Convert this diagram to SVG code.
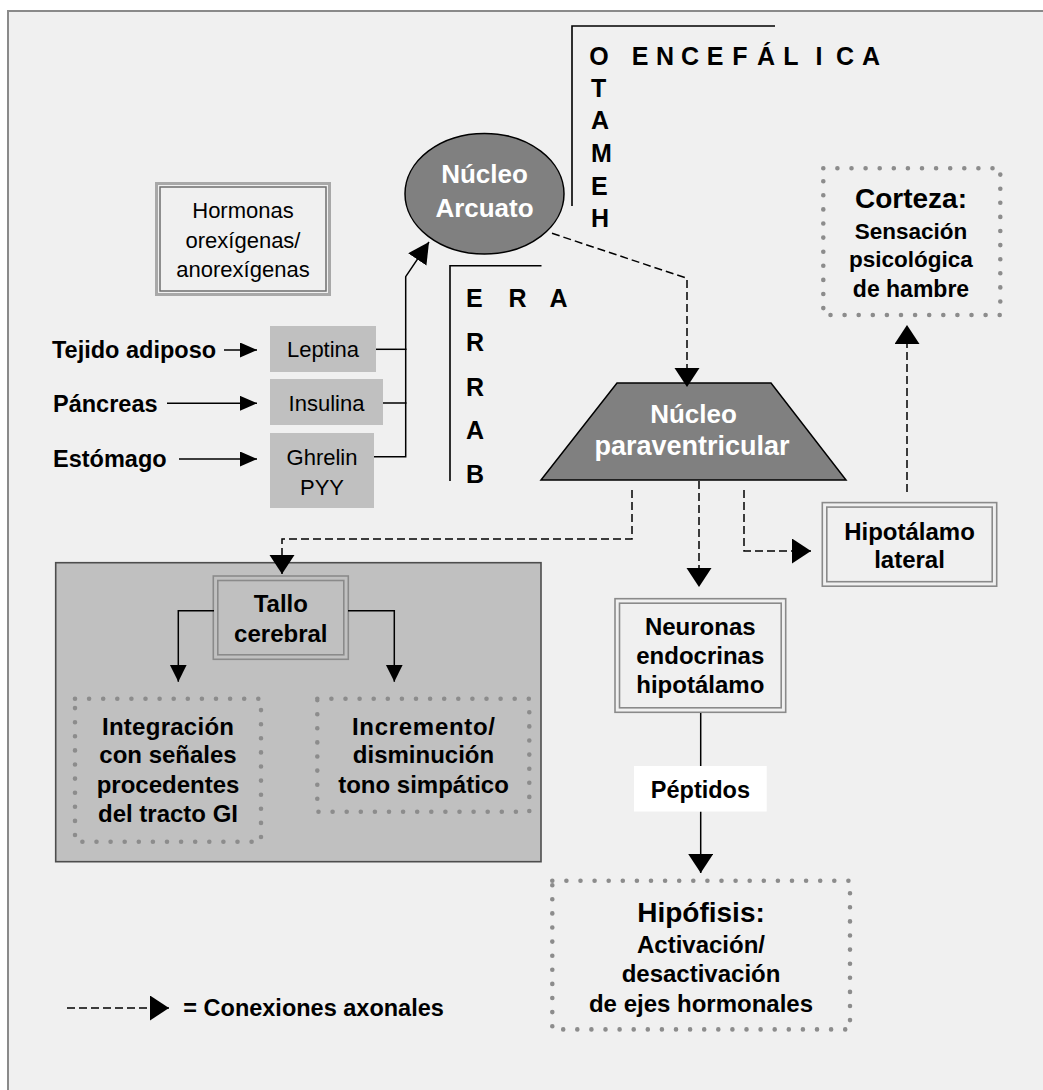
<svg xmlns="http://www.w3.org/2000/svg" width="1043" height="1090" viewBox="0 0 1043 1090">
<style>
text{font-family:"Liberation Sans",Arial,sans-serif;fill:#000}
.b{font-weight:bold}
.r{font-weight:normal}
.w{font-weight:bold;fill:#fff}
.c{text-anchor:middle}
.dbl{fill:none;stroke:#8a8a8a;stroke-width:1.6}
.dot{fill:none;stroke:#8c8c8c;stroke-width:4.6;stroke-dasharray:0 14.1;stroke-linecap:round}
.sol{fill:none;stroke:#000;stroke-width:1.5}
.dash{fill:none;stroke:#000;stroke-width:1.5;stroke-dasharray:8 4}
.hb{fill:#c0c0c0}
.brk{fill:none;stroke:#000;stroke-width:1.6}
</style>
<defs>
<marker id="ab" markerUnits="userSpaceOnUse" markerWidth="20" markerHeight="26" refX="19" refY="12.5" orient="auto"><path d="M0,0 L19,12.5 L0,25 Z" fill="#000"/></marker>
<marker id="am" markerUnits="userSpaceOnUse" markerWidth="18" markerHeight="18" refX="17" refY="8.5" orient="auto"><path d="M0,0 L17,8.5 L0,17 Z" fill="#000"/></marker>
<marker id="as" markerUnits="userSpaceOnUse" markerWidth="18" markerHeight="16" refX="17" refY="7.5" orient="auto"><path d="M0,0 L17,7.5 L0,15 Z" fill="#000"/></marker>
<marker id="ae" markerUnits="userSpaceOnUse" markerWidth="22" markerHeight="23" refX="21" refY="11" orient="auto"><path d="M0,0 L21,11 L0,22 Z" fill="#000"/></marker>
</defs>

<rect x="0" y="0" width="1043" height="1090" fill="#fff"/>
<rect id="frame" x="8" y="11" width="1045" height="1090" fill="#f0f0f0" stroke="#8a8a8a" stroke-width="2"/>

<g id="n-hormonas">
<rect x="156.5" y="183.5" width="173" height="111" fill="none" stroke="#a8a8a8" stroke-width="3"/>
<rect x="160" y="187" width="166" height="104" fill="none" stroke="#6e6e6e" stroke-width="1.5"/>
<text class="r c" x="243" y="218" font-size="22">Hormonas</text>
<text class="r c" x="243" y="248" font-size="22">orexígenas/</text>
<text class="r c" x="243" y="277" font-size="22">anorexígenas</text>
</g>

<g id="n-tejido"><text class="b" x="52" y="358" font-size="23.5">Tejido adiposo</text></g>
<g id="n-pancreas"><text class="b" x="53" y="412" font-size="23.5">Páncreas</text></g>
<g id="n-estomago"><text class="b" x="53" y="467" font-size="23.5">Estómago</text></g>

<g id="n-leptina">
<rect class="hb" x="270" y="326" width="106" height="46"/>
<text class="r c" x="323" y="357" font-size="22">Leptina</text>
</g>
<g id="n-insulina">
<rect class="hb" x="270" y="379" width="113" height="46"/>
<text class="r c" x="326.5" y="411" font-size="22">Insulina</text>
</g>
<g id="n-ghrelin">
<rect class="hb" x="270" y="433" width="104" height="75"/>
<text class="r c" x="322" y="465" font-size="22">Ghrelin</text>
<text class="r c" x="322" y="495" font-size="22">PYY</text>
</g>

<g id="n-arcuato">
<ellipse cx="484.5" cy="193.7" rx="79.5" ry="60.3" fill="#808080" stroke="#000" stroke-width="1.5"/>
<text class="w c" x="484.5" y="183" font-size="26">Núcleo</text>
<text class="w c" x="484.5" y="216.5" font-size="26">Arcuato</text>
</g>

<g id="n-hemato">
<path class="brk" d="M775,26 H572 V206"/>
<text class="b c" font-size="25" x="599 620 640 665 690 715 740 766 791 819 845 871" y="65">O ENCEFÁLICA</text>
<text class="b" font-size="25" x="591" y="96.7">T</text>
<text class="b" font-size="25" x="591" y="129.3">A</text>
<text class="b" font-size="25" x="591" y="161.7">M</text>
<text class="b" font-size="25" x="591" y="195">E</text>
<text class="b" font-size="25" x="591" y="227.3">H</text>
</g>

<g id="n-barrera">
<path class="brk" d="M541.5,265.7 H450 V481"/>
<text class="b" font-size="25" x="466 508.5 549.5" y="307">ERA</text>
<text class="b" font-size="25" x="466" y="351">R</text>
<text class="b" font-size="25" x="466" y="395.5">R</text>
<text class="b" font-size="25" x="466" y="439">A</text>
<text class="b" font-size="25" x="466" y="482.5">B</text>
</g>

<g id="n-pvn">
<polygon points="617,383 771,383 846,480 541,480" fill="#808080" stroke="#000" stroke-width="1.5"/>
<text class="w c" x="693.5" y="423" font-size="26">Núcleo</text>
<text class="w c" x="692" y="455" font-size="27">paraventricular</text>
</g>

<g id="n-corteza">
<rect class="dot" x="823.3" y="168.3" width="177" height="146.7"/>
<text class="b c" x="911" y="208.3" font-size="28">Corteza:</text>
<text class="b c" x="911" y="239.3" font-size="22.5">Sensación</text>
<text class="b c" x="911" y="267" font-size="22.5">psicológica</text>
<text class="b c" x="911" y="297" font-size="23">de hambre</text>
</g>

<g id="n-hl">
<rect class="dbl" x="822.3" y="502.6" width="174.4" height="83.6"/>
<rect class="dbl" x="826.8" y="507.1" width="165.4" height="74.6"/>
<text class="b c" x="909.5" y="539.5" font-size="24">Hipotálamo</text>
<text class="b c" x="909.5" y="568" font-size="24">lateral</text>
</g>

<g id="n-tronco">
<rect x="55.7" y="562.7" width="485.3" height="299" fill="#c0c0c0" stroke="#4d4d4d" stroke-width="1.6"/>
</g>

<g id="n-tallo">
<rect class="dbl" x="213.3" y="576" width="135" height="83.3"/>
<rect class="dbl" x="217.8" y="580.5" width="126" height="74.3"/>
<text class="b c" x="280.8" y="611.7" font-size="24">Tallo</text>
<text class="b c" x="280.8" y="642.3" font-size="24">cerebral</text>
</g>

<g id="n-integracion">
<rect class="dot" x="75" y="698.7" width="186" height="143"/>
<text class="b c" x="168" y="735" font-size="24" textLength="132" lengthAdjust="spacing">Integración</text>
<text class="b c" x="168" y="763.3" font-size="24">con señales</text>
<text class="b c" x="168" y="793" font-size="24">procedentes</text>
<text class="b c" x="168" y="822.3" font-size="24">del tracto GI</text>
</g>

<g id="n-incremento">
<rect class="dot" x="317.3" y="698.7" width="212" height="113"/>
<text class="b c" x="423.5" y="735" font-size="24" textLength="143" lengthAdjust="spacing">Incremento/</text>
<text class="b c" x="423.5" y="763.3" font-size="24">disminución</text>
<text class="b c" x="423.5" y="793" font-size="24">tono simpático</text>
</g>

<g id="n-neuronas">
<rect class="dbl" x="615" y="598.7" width="170.7" height="113.6"/>
<rect class="dbl" x="619.5" y="603.2" width="161.7" height="104.6"/>
<text class="b c" x="700.3" y="635" font-size="24">Neuronas</text>
<text class="b c" x="700.3" y="664" font-size="24">endocrinas</text>
<text class="b c" x="700.3" y="693" font-size="24">hipotálamo</text>
</g>

<g id="n-hipofisis">
<rect class="dot" x="552.3" y="880.7" width="297.7" height="148.7"/>
<text class="b c" x="701" y="921.6" font-size="28">Hipófisis:</text>
<text class="b c" x="701" y="952.8" font-size="24">Activación/</text>
<text class="b c" x="701" y="982" font-size="24">desactivación</text>
<text class="b c" x="701" y="1012" font-size="24">de ejes hormonales</text>
</g>

<g id="connectors">
<line class="sol" x1="224" y1="350" x2="257" y2="350" marker-end="url(#as)"/>
<line class="sol" x1="167" y1="403.3" x2="257" y2="403.3" marker-end="url(#as)"/>
<line class="sol" x1="179" y1="459" x2="257" y2="459" marker-end="url(#as)"/>
<line class="sol" x1="376" y1="349.3" x2="406.5" y2="349.3"/>
<line class="sol" x1="383" y1="403" x2="406.5" y2="403"/>
<polyline class="sol" points="374,456.7 405.7,456.7 405.7,276.7 429,242" marker-end="url(#ae)"/>
<polyline class="dash" points="552,233.3 687,278.3 687,387" marker-end="url(#ab)"/>
<polyline class="dash" points="632,490 632,539 282,539 282,574" marker-end="url(#ab)"/>
<polyline class="dash" points="699,481 699,587" marker-end="url(#ab)"/>
<polyline class="dash" points="744,490 744,551 811,551" marker-end="url(#ab)"/>
<polyline class="dash" points="907,492 907,325" marker-end="url(#ab)"/>
<polyline class="sol" points="214,610.7 178.3,610.7 178.3,681.7" marker-end="url(#am)"/>
<polyline class="sol" points="348,610.7 394.3,610.7 394.3,681.7" marker-end="url(#am)"/>
<line class="sol" x1="700.7" y1="713" x2="700.7" y2="766"/>
<line class="sol" x1="700.7" y1="811.5" x2="700.7" y2="873" marker-end="url(#ab)"/>
</g>

<g id="n-peptidos">
<rect x="634" y="766" width="132.7" height="45.5" fill="#fff"/>
<text class="b c" x="700.4" y="798.3" font-size="23.5">Péptidos</text>
</g>

<g id="legend">
<line class="dash" x1="67" y1="1008" x2="169" y2="1008" marker-end="url(#ab)"/>
<text class="b" x="183.3" y="1016" font-size="23.5">= Conexiones axonales</text>
</g>
</svg>
